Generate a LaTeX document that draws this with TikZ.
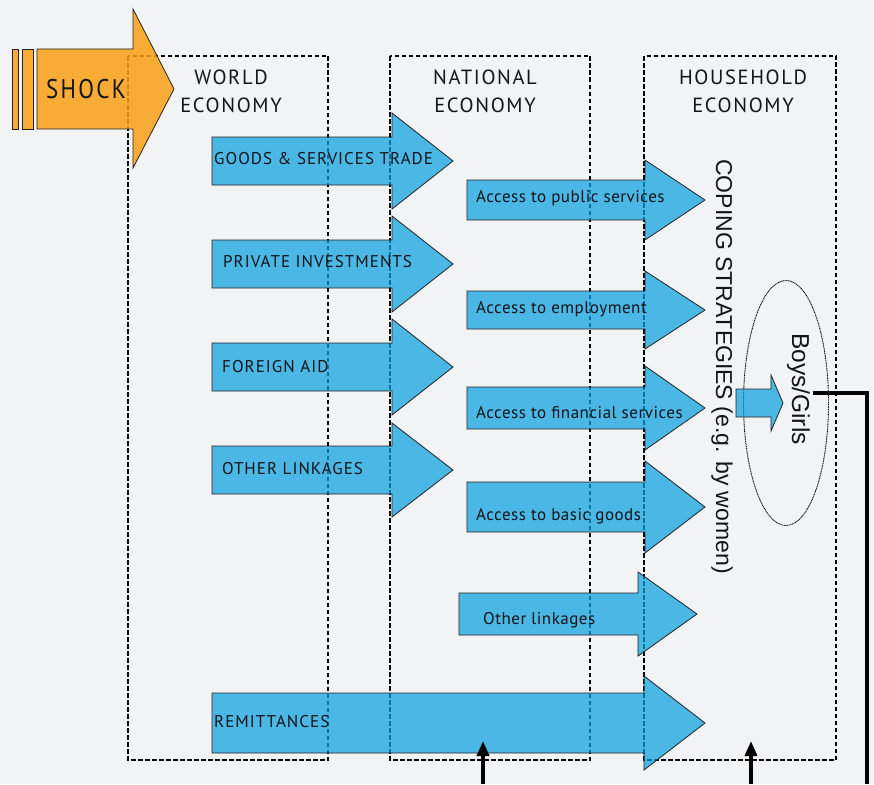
\documentclass[tikz,border=0pt]{standalone}
\usepackage{fontspec}
\setmainfont{PT Sans}
\newfontfamily\titlefont[LetterSpace=8]{PT Sans}
\newfontfamily\shockfont[LetterSpace=10]{PT Sans}
\newfontfamily\capfont[LetterSpace=6]{PT Sans}
\newfontfamily\lowfont[LetterSpace=3]{PT Sans}
\newfontfamily\arialfont{Liberation Sans}
\usetikzlibrary{arrows.meta,shapes.geometric}
\definecolor{bgc}{RGB}{242,243,245}
\definecolor{blu}{RGB}{11,160,223}
\definecolor{org}{RGB}{250,160,20}
\definecolor{edgec}{RGB}{35,35,35}
\definecolor{txt}{RGB}{20,20,25}
\tikzset{
  box/.style={draw=black, line width=1.5pt, dash pattern=on 4.5pt off 2.5pt},
  blfill/.style={fill=blu, fill opacity=0.72, draw=edgec, draw opacity=1, line width=0.8pt},
  orfill/.style={fill=org, fill opacity=0.85, draw=edgec, draw opacity=1, line width=0.8pt},
  ttl/.style={font=\titlefont\fontsize{20.5}{25}\selectfont, text=txt, inner sep=0pt, anchor=base},
  caplbl/.style={font=\capfont\fontsize{17}{20}\selectfont, text=txt, inner sep=0pt, anchor=base west},
  lowlbl/.style={font=\lowfont\fontsize{17}{20}\selectfont, text=txt, inner sep=0pt, anchor=base west},
  vert/.style={font=\arialfont\fontsize{23}{26}\selectfont, text=txt, inner sep=0pt, rotate=-90, anchor=base west},
  fat/.style={line width=3.5pt, draw=black},
}
% #1 name, #2 x left, #3 x head base, #4 x tip, #5 y centre, #6 half body, #7 half head
\newcommand{\barrow}[7]{%
  \path[blfill] (#2,#5-#6) -- (#3,#5-#6) -- (#3,#5-#7) -- (#4,#5) -- (#3,#5+#7) -- (#3,#5+#6) -- (#2,#5+#6) -- cycle;
  \coordinate (#1) at (#3,#5);
}
\begin{document}
\begin{tikzpicture}[x=1pt,y=-1pt]
\path[fill=bgc] (0,0) rectangle (874,784);
\useasboundingbox (0,0) rectangle (874,784);

% dashed frames
\draw[box] (128,56) rectangle (328,760);
\draw[box] (390,56) rectangle (590,760);
\draw[box] (644,56) rectangle (836,760);

% titles
\node[ttl] (w1) at (231,84) {WORLD};
\node[ttl] (w2) at (231,112) {ECONOMY};
\node[ttl] (n1) at (485,84) {NATIONAL};
\node[ttl] (n2) at (485,112) {ECONOMY};
\node[ttl] (h1) at (743,84) {HOUSEHOLD};
\node[ttl] (h2) at (743,112) {ECONOMY};

% shock
\path[orfill] (12,49) rectangle (18,129);
\path[orfill] (22,49) rectangle (33,129);
\path[orfill] (37,49) -- (133,49) -- (133,9) -- (174,89) -- (133,168) -- (133,129) -- (37,129) -- cycle;
\node[font=\shockfont\fontsize{27}{30}\selectfont, text=txt, inner sep=0pt, anchor=base west] (shock) at (46,98) {\scalebox{0.85}[1]{SHOCK}};

% left column arrows
\barrow{a1}{212}{392}{453}{161}{24}{48}
\barrow{a2}{212}{392}{453}{264}{24}{48}
\barrow{a3}{212}{392}{453}{367}{24}{48}
\barrow{a4}{212}{392}{453}{470}{24}{47}
\node[caplbl] (t1) at (214,164) {GOODS \& SERVICES TRADE};
\node[caplbl] (t2) at (223,267) {PRIVATE INVESTMENTS};
\node[caplbl] (t3) at (222,372) {FOREIGN AID};
\node[caplbl] (t4) at (222,474) {OTHER LINKAGES};

% right column arrows
\barrow{b1}{467}{645}{705}{200}{20}{40}
\barrow{b2}{467}{645}{705}{310}{19}{39}
\barrow{b3}{467}{645}{705}{408}{21}{42}
\barrow{b4}{467}{645}{705}{507}{25}{46}
\barrow{b5}{459}{638}{697}{614}{21}{42}
\node[lowlbl] (u1) at (476,202) {Access to public services};
\node[lowlbl] (u2) at (476,313) {Access to employment};
\node[lowlbl] (u3) at (476,418) {Access to financial services};
\node[lowlbl] (u4) at (476,520) {Access to basic goods};
\node[lowlbl] (u5) at (483,624) {Other linkages};

% remittances
\barrow{r}{212}{644}{705}{723}{30}{47}
\node[caplbl] (rt) at (214,727) {REMITTANCES};

% coping strategies
\node[vert] (cope) at (716,159) {COPING STRATEGIES (e.g. by women)};

% boys/girls ellipse
\node[ellipse, draw=black, line width=0.9pt, dash pattern=on 1pt off 0.7pt, minimum width=85pt, minimum height=245pt, inner sep=0pt] (bg) at (786,403) {};
\barrow{s}{736}{771}{783}{403}{14}{28}
\node[vert, font=\arialfont\fontsize{24.5}{27}\selectfont] (boys) at (792,333) {Boys/Girls};

% feedback lines
\coordinate (f0) at (813,393);
\coordinate (f1) at (867,393);
\coordinate (f2) at (867,784);
\draw[fat] (f0) -- (f1) -- (f2);
\coordinate (p0) at (483,784);
\coordinate (p1) at (483,741);
\draw[fat, -{Triangle[length=15pt,width=12pt]}] (p0) -- (p1);
\coordinate (q0) at (751,784);
\coordinate (q1) at (751,741);
\draw[fat, -{Triangle[length=15pt,width=12pt]}] (q0) -- (q1);
\end{tikzpicture}
\end{document}
